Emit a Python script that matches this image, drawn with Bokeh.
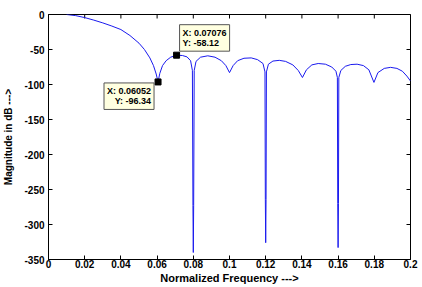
import math
from bokeh.plotting import figure
from bokeh.models import FixedTicker, Label, Range1d
from bokeh.embed import file_html
from bokeh.resources import INLINE

# ---- data ----
freq = [0.0100, 0.0150, 0.0200, 0.0250, 0.0300, 0.0350, 0.0400, 0.0450, 0.0500,
        0.0530, 0.0560, 0.0580, 0.0595, 0.06052, 0.0615, 0.0630, 0.0650, 0.0675,
        0.07076, 0.0740, 0.0765, 0.0785, 0.0795, 0.0798, 0.0800, 0.0802, 0.0805,
        0.0815, 0.0840, 0.0880, 0.0920, 0.0955, 0.0980, 0.1000, 0.1020, 0.1045,
        0.1080, 0.1120, 0.1155, 0.1185, 0.1196, 0.1198, 0.1200, 0.1202, 0.1204,
        0.1215, 0.1240, 0.1275, 0.1310, 0.1350, 0.1380, 0.1403, 0.1425, 0.1455,
        0.1490, 0.1530, 0.1565, 0.1588, 0.1596, 0.1598, 0.1600, 0.1602, 0.1604,
        0.1615, 0.1640, 0.1670, 0.1705, 0.1740, 0.1770, 0.1798, 0.1820, 0.1855,
        0.1890, 0.1925, 0.1955, 0.1980, 0.2000]
mag_db = [0.0, -1.6, -4.4, -8.0, -12.0, -16.5, -21.5, -30.0, -41.0,
          -50.0, -62.0, -73.0, -85.0, -96.34, -84.0, -73.0, -66.0, -61.0,
          -58.12, -58.6, -60.5, -66.0, -80.0, -273.0, -340.0, -273.0, -80.0,
          -67.0, -61.0, -59.0, -61.0, -66.0, -73.0, -83.0, -73.0, -66.0,
          -62.5, -62.0, -64.5, -70.0, -82.0, -264.0, -326.0, -264.0, -82.0,
          -71.0, -66.5, -65.5, -67.0, -72.0, -80.0, -90.0, -79.0, -72.0,
          -70.0, -71.0, -75.0, -81.0, -90.0, -270.0, -333.0, -270.0, -90.0,
          -80.0, -74.0, -71.5, -71.0, -73.0, -79.0, -97.0, -83.0, -77.0,
          -75.5, -77.0, -81.0, -88.0, -95.0]

tip_x = [0.06052, 0.07076]
tip_y = [-96.34, -58.12]
tip_text = ["X: 0.06052\nY: -96.34", "X: 0.07076\nY: -58.12"]

x_ticks = [0, 0.02, 0.04, 0.06, 0.08, 0.1, 0.12, 0.14, 0.16, 0.18, 0.2]
x_tick_labels = ["0", "0.02", "0.04", "0.06", "0.08", "0.1", "0.12", "0.14", "0.16", "0.18", "0.2"]
y_ticks = [0, -50, -100, -150, -200, -250, -300, -350]
y_tick_labels = ["0", "-50", "-100", "-150", "-200", "-250", "-300", "-350"]

FONT = "Liberation Sans"
X_MIN, X_MAX = 0, 0.2
Y_MIN, Y_MAX = -350, 0

p = figure(width=422, height=287, output_backend="svg", toolbar_location=None,
           x_range=Range1d(X_MIN, X_MAX), y_range=Range1d(Y_MIN, Y_MAX),
           min_border_left=47, min_border_right=12, min_border_top=14, min_border_bottom=28,
           background_fill_color="white", border_fill_color="white")
p.outline_line_color = "black"
p.grid.visible = False

def style_axis(ax, ticks, labels):
    ax.ticker = FixedTicker(ticks=ticks)
    ax.major_label_overrides = {t: l for t, l in zip(ticks, labels)}
    ax.major_tick_in = 4
    ax.major_tick_out = 0
    ax.minor_tick_in = 0
    ax.minor_tick_out = 0
    ax.axis_line_color = "black"
    ax.major_tick_line_color = "black"
    ax.major_label_text_font = FONT
    ax.major_label_text_font_style = "bold"
    ax.major_label_text_color = "black"
    ax.major_label_text_font_size = "10px"
    ax.axis_label_text_font = FONT
    ax.axis_label_text_font_style = "bold"
    ax.axis_label_text_color = "black"

style_axis(p.xaxis[0], x_ticks, x_tick_labels)
style_axis(p.yaxis[0], y_ticks, y_tick_labels)
p.xaxis[0].axis_label = "Normalized Frequency --->"
p.yaxis[0].axis_label = "Magnitude in dB --->"
p.xaxis[0].axis_label_text_font_size = "11px"
p.yaxis[0].axis_label_text_font_size = "10px"
p.xaxis[0].major_label_standoff = 0
p.xaxis[0].axis_label_standoff = 1
p.yaxis[0].major_label_standoff = 4
p.yaxis[0].axis_label_standoff = 7

# inward ticks on the top and right edges of the box (no labels there)
p.scatter(x_ticks, [Y_MAX] * len(x_ticks), marker="dash", angle=math.pi / 2,
          size=8, line_color="black", line_width=1)
p.scatter([X_MAX] * len(y_ticks), y_ticks, marker="dash",
          size=8, line_color="black", line_width=1)

p.line(freq, mag_db, line_color="#1a1aee", line_width=1)
p.scatter(tip_x, tip_y, marker="square", size=6, color="black")

# data tips
common = dict(text_font=FONT, text_font_style="bold", text_font_size="9px",
              text_color="black", background_fill_color="#ffffe0",
              border_line_color="#555555", border_line_width=1,
              text_line_height=1.05, padding=3)
p.add_layout(Label(x=tip_x[0], y=tip_y[0], text=tip_text[0], x_offset=-4, y_offset=-1,
                   text_align="right", text_baseline="top", **common))
p.add_layout(Label(x=tip_x[1], y=tip_y[1], text=tip_text[1], x_offset=3, y_offset=4,
                   text_align="left", text_baseline="bottom", **common))

open("out.html", "w").write(file_html(p, INLINE))
